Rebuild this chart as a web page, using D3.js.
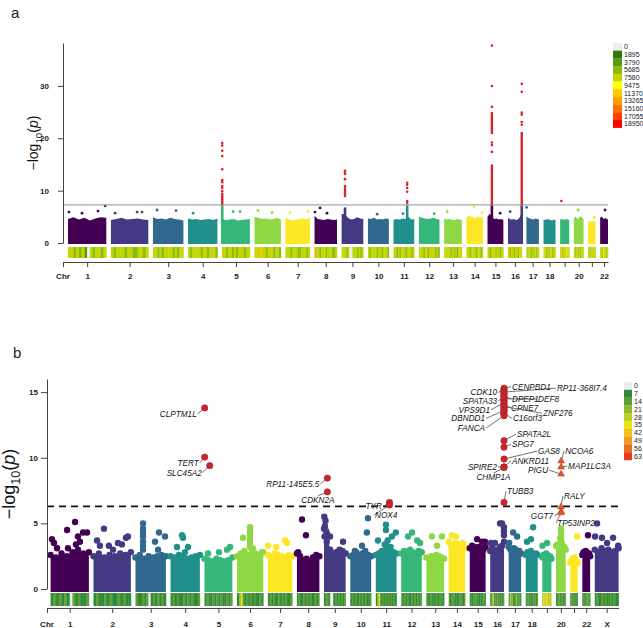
<!DOCTYPE html>
<html lang="en">
<head>
<meta charset="UTF-8">
<title>Manhattan plots</title>
<script src="https://d3js.org/d3.v7.min.js"></script>
<style>
  body { margin: 0; background: #fff; }
  svg { display: block; font-family: "Liberation Sans", Arial, sans-serif; }
</style>
</head>
<body>
<svg id="chart" width="643" height="628"></svg>
<script>
// chromosomes (hg19 lengths, Mb)
const chrNames = ["1","2","3","4","5","6","7","8","9","10","11","12","13","14","15","16","17","18","19","20","21","22","X"];
const chrLength = [249,243,198,191,181,171,159,146,141,136,135,134,115,107,103,90,81,78,59,63,48,51,155];
const hiddenTicks = ["19", "21"];
const chrColors = ["#440154","#443a83","#31688e","#21908c","#35b779","#8fd744","#fde725"];

// ---- panel a data ----
// top of the dense point cloud per chromosome (-log10 p), read left to right
const bodyA = [
  [4.6,4.9,4.5,4.8,4.3,4.7,4.9,4.8],[4.4,4.6,4.8,4.5,4.6,4.7,4.5,4.4],[4.9,4.6,4.7,4.5,4.8,4.6,4.5,4.3],
  [4.7,4.5,4.6,4.4,4.5,4.6,4.4,4.7],[4.6,4.4,4.5,4.6,4.3,4.4,4.5,4.6],[5.0,4.8,4.6,4.7,4.5,4.6,4.8,4.5],
  [4.8,4.5,4.3,4.4,4.6,4.7,4.5,4.9],[5.2,4.6,4.5,4.4,4.6,4.5,4.4,4.5],[5.5,5.6,4.8,4.5,4.6,4.9,4.7,4.6],
  [4.7,4.6,4.8,4.5,4.6,4.5,4.7,4.6],[4.4,4.6,4.5,4.7,4.6,5.0,4.5,4.6],[5.0,4.8,4.7,4.6,4.7,4.8,4.6,4.5],
  [4.7,4.5,4.6,4.5,4.4,4.6,4.5,4.4],[4.8,5.2,5.0,4.9,4.7,5.1,4.8,4.9],[5.0,5.6,4.9,4.6,4.7,4.5,4.6,4.4],
  [4.8,4.6,4.5,4.6,4.4,4.5,4.9,5.8],[5.1,4.8,4.7,4.6,4.5,4.7,4.6,4.5],[4.5,4.4,4.6,4.5,4.4,4.3,4.5,4.4],
  [4.6,4.5,4.6,4.4,4.5,4.6,4.5,4.4],[4.7,5.0,4.8,4.6,4.9,5.1,4.8,4.6],[4.2,4.0,4.3,4.1,4.2,4.0,4.1,4.2],
  [4.8,5.0,4.9,4.6,4.7,4.8,4.5,4.6]
];
// narrow columns of the cloud: [chr, Mb, top]
const spikesA = [[5,1.3,7.3],[9,22,6.8],[11,89,7.3],[15,28.4,7.3],[16,89.5,7.3]];
// single points above the cloud: [chr, Mb, value]
const dotsA = [
  [1,6,5.9],[1,91,5.7],[1,195,6.1],[1,241,7.1],[2,27,5.7],[2,170,5.9],[2,202,5.9],[3,27,6.3],[3,150,6.2],
  [4,33,5.7],[5,72,6.0],[5,117,6.0],[6,23,6.2],[6,114,5.8],[7,30,5.8],[7,147,6.0],[8,3,5.9],[8,36,6.7],
  [8,81,5.7],[10,60,5.5],[11,62,5.6],[12,99,5.6],[13,20,6.0],[14,50,6.9],[14,102,5.8],[15,82,5.7],
  [16,14,6.0],[17,1,6.8],[20,28,6.3],[21,39,4.9],[22,32,6.3]
];
// significant points: [chr, Mb, value]
const sigA = [
  [5,1.3,19.1],[5,1.3,18.6],[5,1.3,17.6],[5,1.3,16.6],[5,1.3,14.1],[5,1.3,12.0],[5,1.3,11.6],[5,1.3,10.9],[5,1.3,10.5],[5,1.3,9.9],
  [9,22,13.8],[9,22,13.6],[9,22,13.2],[9,22,12.2],[9,22,10.9],[9,22,10.5],[9,22,10.1],[9,22,9.8],[9,22,9.4],[9,22,9.0],
  [11,89,11.5],[11,89,11.1],[11,89,10.5],[11,89,9.8],[11,89,8.0],[11,89,7.7],
  [15,28.4,37.7],[15,28.4,30.0],[15,28.4,26.0],[15,28.4,19.2],[15,28.4,18.7],[15,28.4,17.4],
  [16,89.5,30.4],[16,89.5,28.9],[16,89.5,24.9],[16,89.5,24.5],[16,89.5,23.1],[16,89.5,22.6],
  [19,8,8.0]
];
// densely packed significant runs: [chr, Mb, low, high]
const sigRunsA = [[5,1.3,7.3,9.6],[15,28.4,7.3,15.0],[15,28.4,20.8,25.0],[16,89.5,7.3,21.2]];
// SNP density bins per chromosome (legend level index)
const densA = [
  "44343420434434","43444344334434","44343444434344","43444434434443","44344343444344","44464434443443",
  "44434443344434","74434443444334","44434004443434","43444434434443","44343444344434","44434434444343",
  "44444344343444","44434444344434","44344443444344","44364434443464","43444344344344","44434434443444",
  "46443444465444","44344434434444","43444344444444","44434454444344"
];
const legendA = [0,1895,3790,5685,7580,9475,11370,13265,15160,17055,18950];
const legendColA = ["#ececec","#2c7c0c","#5a9a10","#8cba14","#c4d600","#ffff00","#ffc800","#ff9e00","#ff7000","#ff4000","#ff0000"];

// ---- panel b data ----
const bodyB = [
  [2.6,2.4,2.7,2.5,2.8,3.0,2.7,2.8],[2.5,2.7,2.4,2.6,2.5,2.7,2.6,2.8],[2.4,2.6,2.3,2.5,2.4,2.5,2.6,2.5],
  [2.5,2.4,2.6,2.5,2.3,2.4,2.5,2.6],[2.3,2.2,2.1,2.3,2.2,2.1,2.2,2.4],[2.5,2.7,2.9,2.6,3.0,2.7,2.6,2.8],
  [2.6,2.5,2.7,2.6,2.5,2.4,2.6,2.5],[2.7,2.5,2.2,2.3,2.1,2.4,2.6,2.5],[4.6,4.2,3.0,2.7,2.8,3.0,2.9,2.7],
  [2.5,2.6,2.8,2.5,2.7,2.9,2.6,2.5],[2.6,2.7,2.9,3.4,3.7,3.2,2.8,2.7],[2.7,2.9,2.8,3.0,2.8,2.7,2.9,2.8],
  [2.4,2.3,2.5,2.4,2.6,2.5,2.4,2.3],[3.6,3.4,3.3,3.5,3.2,3.4,3.3,3.1],[3.1,3.3,3.2,3.0,3.2,3.1,3.0,3.2],
  [2.9,3.1,3.0,2.8,3.0,3.2,3.3,3.6],[3.2,3.0,2.9,3.1,3.0,2.8,2.9,2.7],[2.6,2.8,2.7,2.9,2.6,2.5,2.7,2.6],
  [2.4,2.6,2.5,2.7,2.6,2.4,2.5,2.3],[3.3,3.4,3.2,3.9,3.5,3.3,3.2,3.0],[2.0,2.1,2.3,2.2,2.4,2.2,2.1,2.0],
  [2.6,2.8,2.7,2.9,2.8,2.6,2.7,2.5],[3.0,2.8,3.1,2.9,3.0,2.8,2.9,3.1]
];
const dotsB = [
  [1,9,3.8],[1,22,3.5],[1,42,3.1],[1,107,4.5],[1,113,3.1],[1,159,5.1],[1,165,3.4],[1,178,4.0],[1,191,3.6],[1,211,4.3],[1,237,4.3],
  [2,23,3.7],[2,42,3.3],[2,68,4.6],[2,100,3.3],[2,127,3.0],[2,159,3.5],[2,185,3.4],[2,211,3.9],[2,224,4.0],
  [3,49,5.0],[3,49,4.6],[3,49,4.3],[3,49,4.0],[3,49,3.6],[3,49,3.3],[3,49,3.0],[3,127,3.6],[3,147,3.0],[3,153,4.3],[3,192,4.0],
  [4,42,3.2],[4,75,4.1],[4,81,3.9],[4,94,2.8],[4,114,3.2],
  [5,23,2.7],[5,94,2.8],[5,146,3.0],[5,166,3.2],
  [6,85,4.7],[6,85,4.4],[6,85,4.1],[6,85,3.8],[6,85,3.5],[6,85,3.2],[6,39,3.9],[6,104,3.1],[6,163,2.8],
  [7,1,3.3],[7,55,3.2],[7,112,3.7],[7,124,3.5],
  [8,8,2.8],[8,33,5.3],[8,59,4.1],
  [9,2,5.5],[9,10,5.2],[9,6,4.8],[9,14,4.4],[9,4,4.0],[9,18,3.6],[9,39,4.0],[9,124,3.6],
  [10,30,2.9],[10,76,3.3],[10,108,4.3],[10,115,5.4],
  [11,14,3.7],[11,66,4.9],[11,66,4.5],[11,105,4.0],[11,130,4.3],
  [12,45,4.0],[12,71,4.3],[12,104,3.7],[12,123,3.5],
  [13,36,4.0],[13,69,3.3],[13,101,4.0],
  [14,21,4.1],[14,47,4.0],[14,93,3.5],
  [15,48,3.8],[15,80,3.6],[15,99,3.6],
  [16,5,3.5],[16,31,3.5],[16,64,5.0],[16,77,5.0],[16,89.5,4.7],[16,89.5,4.4],[16,89.5,4.1],
  [17,3,3.5],[17,29,4.3],[17,55,4.0],
  [18,8,3.6],[18,34,3.8],[18,48,4.7],
  [19,1,3.3],[19,31,3.5],
  [20,33,4.6],[20,33,4.3],[20,33,4.0],[20,33,3.7],
  [21,44,4.0],[22,37,4.1],
  [23,2,4.0],[23,15,5.0],[23,47,3.9],[23,80,3.5],[23,119,3.9],[23,152,3.3]
];
// annotated hits: [gene, chr, Mb, value, shape]
const genesB = [
  ["CLPTM1L",5,1.33,13.8,"c"],["TERT",5,1.28,10.05,"c"],["SLC45A2",5,33.9,9.4,"c"],
  ["RP11-145E5.5",9,21.9,8.45,"c"],["CDKN2A",9,21.97,7.4,"c"],
  ["TYR",11,88.9,6.6,"c"],["NOX4",11,89.1,6.4,"c"],
  ["CDK10",16,89.75,15.2,"c"],["CENPBD1",16,90.0,15.3,"c"],["RP11-368I7.4",16,89.3,15.0,"c"],
  ["SPATA33",16,89.7,14.6,"c"],["DPEP1",16,89.7,14.7,"c"],["DEF8",16,90.0,14.5,"c"],
  ["VPS9D1",16,89.8,14.2,"c"],["CPNE7",16,89.6,14.1,"c"],["ZNF276",16,89.8,13.9,"c"],
  ["DBNDD1",16,90.0,13.6,"c"],["C16orf3",16,89.0,13.4,"c"],["FANCA",16,89.8,13.2,"c"],
  ["SPATA2L",16,89.8,11.3,"c"],["SPG7",16,89.6,10.8,"c"],["GAS8",16,90.1,9.9,"c"],
  ["ANKRD11",16,89.4,9.3,"c"],["SPIRE2",16,89.9,9.3,"c"],["CHMP1A",16,89.7,9.25,"c"],
  ["TUBB3",16,90.0,6.6,"c"],
  ["NCOA6",20,33.3,9.75,"t"],["MAP1LC3A",20,33.1,9.3,"t"],["PIGU",20,33.2,8.75,"t"],
  ["RALY",20,32.6,6.25,"t"],["GGT7",20,33.4,5.9,"t"],["TP53INP2",20,33.3,5.8,"t"]
];
// unlabeled hits inside the chr16 cluster
const extraSigB = [[16,89.6,15.1],[16,89.6,14.9],[16,89.6,14.8],[16,89.6,14.4],[16,89.6,14.3],[16,89.6,14.0],[16,89.6,13.8],[16,89.6,13.7],[16,89.6,13.5],[16,89.6,13.3]];
const densB = [
  "12121210212112","12112121121211","21121201212121","12121121212112","12112121211212","13521212121121",
  "12121121212112","12112121211212","12210012121212","12121121212112","13512121212121","21212112121212",
  "12121211212121","21212121121212","12121212121121","12341213121212","12513121512121","12121212121212",
  "35465354535435","12121312121212","11212121212121","12121212132121","12112121121211"
];
const legendB = [0,7,14,21,28,35,42,49,56,63];
const legendColB = ["#ececec","#2d8a3a","#5e9e35","#8cb92b","#b8cf20","#e8e619","#f4c01e","#f39a20","#ee6b23","#e63a22"];

// label placement (px offset of text from its point, anchor)
const labelLayout = {
  "CLPTM1L":[-8,6,"end"], "TERT":[-6,6,"end"], "SLC45A2":[-8,7,"end"], "RP11-145E5.5":[-8,6,"end"],
  "CDKN2A":[-9.5,8.5,"middle"], "TYR":[-7.5,4,"end"], "NOX4":[-14.5,10,"start"],
  "CDK10":[-7,3,"end"], "CENPBD1":[8,-1.5,"start"], "RP11-368I7.4":[53,-4,"start"], "SPATA33":[-7,3.5,"end"],
  "DPEP1":[8,3,"start"], "DEF8":[34,0.5,"start"], "VPS9D1":[-14,7.2,"end"], "CPNE7":[7,3.8,"start"],
  "ZNF276":[39,6.6,"start"], "DBNDD1":[-19,7.9,"end"], "C16orf3":[9,5.3,"start"], "FANCA":[-19,12.4,"end"],
  "SPATA2L":[13,-6.5,"start"], "SPG7":[8,-3,"start"], "GAS8":[34,-8,"start"], "ANKRD11":[8,-6,"start"],
  "SPIRE2":[-7,0,"end"], "CHMP1A":[-10.5,10,"middle"], "TUBB3":[3,-11,"start"],
  "NCOA6":[4,-10,"start"], "MAP1LC3A":[7,-0.8,"start"], "PIGU":[-13,-4,"end"], "RALY":[3,-11,"start"],
  "GGT7":[-8,4.5,"end"], "TP53INP2":[-4,10,"start"]
};

// cumulative positions with a gap between chromosomes
const gap = 30;
const chrStart = [];
let acc = 0;
chrLength.forEach(l => { chrStart.push(acc); acc += l + gap; });
const centre = i => chrStart[i] + chrLength[i] / 2;

const svg = d3.select("#chart");
svg.append("rect").attr("width", 643).attr("height", 628).attr("fill", "#fff");

const xA = d3.scaleLinear().domain([-32.5, chrStart[21] + chrLength[21]]).range([63, 608]);
const yA = d3.scaleLinear().domain([0, 38.2]).range([243, 43]);
const xB = d3.scaleLinear().domain([-23.4, chrStart[22] + chrLength[22]]).range([47, 618.6]);
const yB = d3.scaleLinear().domain([0, 16]).range([589, 379]);

const px = (x, c, pos) => x(chrStart[c - 1] + pos);

function yTitle(x, y, size) {
  const t = svg.append("text")
    .attr("transform", `translate(${x},${y}) rotate(-90)`)
    .attr("text-anchor", "middle").attr("font-size", size).attr("fill", "#111");
  t.append("tspan").text("\u2212log");
  t.append("tspan").attr("font-size", size * 0.7).attr("dy", size * 0.28).text("10");
  t.append("tspan").attr("dy", -size * 0.28).text("(");
  t.append("tspan").attr("font-style", "italic").text("p");
  t.append("tspan").text(")");
}

function drawStrip(x, dens, cols, y0, h) {
  dens.forEach((s, i) => {
    const bins = s.split("").map(Number);
    const w = chrLength[i] / bins.length;
    bins.forEach((lv, j) => {
      const a = x(chrStart[i] + j * w), b = x(chrStart[i] + (j + 1) * w);
      svg.append("rect").attr("x", a).attr("y", y0).attr("width", b - a + 0.3).attr("height", h)
        .attr("fill", cols[lv]);
    });
  });
}

function drawLegend(vals, cols, x0, y0, h, w, size) {
  vals.forEach((v, i) => {
    svg.append("rect").attr("x", x0).attr("y", y0 + i * h).attr("width", w).attr("height", h + 0.2).attr("fill", cols[i]);
    svg.append("text").attr("x", x0 + w + 2).attr("y", y0 + i * h + h / 2 + size * 0.36)
      .attr("font-size", size).attr("fill", "#222").text(v);
  });
}

function drawXAxis(x, n, yPos, pad) {
  const ticks = [x.domain()[0]].concat(d3.range(n).map(centre));
  const labels = [""].concat(chrNames.slice(0, n).map(c => hiddenTicks.includes(c) ? "" : c));
  const g = svg.append("g").attr("transform", `translate(0,${yPos})`)
    .call(d3.axisBottom(x).tickValues(ticks).tickFormat((d, i) => labels[i]).tickSize(5).tickSizeOuter(0).tickPadding(pad));
  g.selectAll("path,line").attr("stroke", "#444");
  g.selectAll("text").attr("font-size", 8).attr("font-weight", "bold").attr("fill", "#222")
    .attr("font-family", "Liberation Sans, Arial, sans-serif");
  svg.append("text").attr("x", x.range()[0]).attr("y", yPos + 5 + pad + 5.7)
    .attr("text-anchor", "middle").attr("font-size", 8).attr("font-weight", "bold").attr("fill", "#222").text("Chr");
}

function drawYAxis(y, xPos, ticks, size, pad) {
  const g = svg.append("g").attr("transform", `translate(${xPos},0)`)
    .call(d3.axisLeft(y).tickValues(ticks).tickSize(size).tickSizeOuter(0).tickPadding(pad));
  g.selectAll("path,line").attr("stroke", "#444");
  g.selectAll("text").attr("font-size", 8).attr("font-weight", "bold").attr("fill", "#222")
    .attr("font-family", "Liberation Sans, Arial, sans-serif");
}

// ================= panel a =================
svg.append("text").attr("x", 11).attr("y", 18).attr("font-size", 15).attr("fill", "#222").text("a");

bodyA.forEach((prof, i) => {
  const pts = prof.map((v, j) => [chrStart[i] + chrLength[i] * j / (prof.length - 1), v]);
  const area = d3.area().x(d => xA(d[0])).y0(yA(0) + 1).y1(d => yA(d[1]));
  svg.append("path").attr("d", area(pts)).attr("fill", chrColors[i % 7]);
});
spikesA.forEach(([c, pos, v]) => {
  svg.append("rect").attr("x", px(xA, c, pos) - 1.3).attr("y", yA(v)).attr("width", 2.6)
    .attr("height", yA(0) + 1 - yA(v)).attr("fill", chrColors[(c - 1) % 7]);
});
svg.selectAll(null).data(dotsA).join("circle")
  .attr("cx", d => px(xA, d[0], d[1])).attr("cy", d => yA(d[2])).attr("r", 1.4)
  .attr("fill", d => chrColors[(d[0] - 1) % 7]);

// genome-wide threshold
svg.append("line").attr("x1", 63).attr("x2", 608).attr("y1", yA(7.3)).attr("y2", yA(7.3))
  .attr("stroke", "#a8a8a8").attr("stroke-width", 1.2);

sigRunsA.forEach(([c, pos, lo, hi]) => {
  svg.append("line").attr("x1", px(xA, c, pos)).attr("x2", px(xA, c, pos))
    .attr("y1", yA(lo)).attr("y2", yA(hi)).attr("stroke", "#d7262b").attr("stroke-width", 2.4);
});
svg.selectAll(null).data(sigA).join("circle")
  .attr("cx", d => px(xA, d[0], d[1])).attr("cy", d => yA(d[2])).attr("r", 1.3).attr("fill", "#d7262b");

drawStrip(xA, densA, legendColA, 247, 11);
drawYAxis(yA, 63, [0, 10, 20, 30], 5, 9);
drawXAxis(xA, 22, 262, 6);
yTitle(38, 143, 14);
drawLegend(legendA, legendColA, 613, 43, 7.7, 9, 7);

// ================= panel b =================
svg.append("text").attr("x", 13).attr("y", 358).attr("font-size", 15).attr("fill", "#222").text("b");

bodyB.forEach((prof, i) => {
  const pts = prof.map((v, j) => [chrStart[i] + chrLength[i] * j / (prof.length - 1), v]);
  const area = d3.area().x(d => xB(d[0])).y0(yB(0) + 3).y1(d => yB(d[1]));
  const col = chrColors[i % 7];
  svg.append("path").attr("d", area(pts)).attr("fill", col);
  svg.selectAll(null).data(pts).join("circle")
    .attr("cx", d => xB(d[0])).attr("cy", d => yB(d[1])).attr("r", 3.2).attr("fill", col);
});
svg.selectAll(null).data(dotsB).join("circle")
  .attr("cx", d => px(xB, d[0], d[1])).attr("cy", d => yB(d[2])).attr("r", 3.2)
  .attr("fill", d => chrColors[(d[0] - 1) % 7]);

svg.append("line").attr("x1", 47).attr("x2", 619).attr("y1", yB(6.3)).attr("y2", yB(6.3))
  .attr("stroke", "#111").attr("stroke-width", 1.8).attr("stroke-dasharray", "7,5");

// leader lines, then points, then labels
const lbl = genesB.map(([name, c, pos, v, shape]) => {
  const x = px(xB, c, pos), y = yB(v);
  const [dx, dy, anchor] = labelLayout[name];
  const tx = x + dx, ty = y + dy;
  let ex = tx, ey = ty;
  if (anchor === "end") ex = tx + 1;
  else if (anchor === "start") ex = tx - 1;
  else ey = ty - 4.5;
  return { name, x, y, shape, tx, ty, ex, ey, anchor };
});
svg.selectAll(null).data(lbl).join("line")
  .attr("x1", d => d.x).attr("y1", d => d.y).attr("x2", d => d.ex).attr("y2", d => d.ey)
  .attr("stroke", "#333").attr("stroke-width", 0.7);

svg.selectAll(null).data(extraSigB).join("circle")
  .attr("cx", d => px(xB, d[0], d[1])).attr("cy", d => yB(d[2])).attr("r", 3.2)
  .attr("fill", "#c9252c").attr("stroke", "#9b1c1c").attr("stroke-width", 0.5);
svg.selectAll(null).data(lbl.filter(d => d.shape === "c")).join("circle")
  .attr("cx", d => d.x).attr("cy", d => d.y).attr("r", 3.2)
  .attr("fill", "#c9252c").attr("stroke", "#9b1c1c").attr("stroke-width", 0.5);
svg.selectAll(null).data(lbl.filter(d => d.shape === "t")).join("path")
  .attr("d", d3.symbol(d3.symbolTriangle).size(20))
  .attr("transform", d => `translate(${d.x},${d.y})`)
  .attr("fill", "#e4572e").attr("stroke", "#b03a1a").attr("stroke-width", 0.5);

svg.selectAll(null).data(lbl).join("text")
  .attr("x", d => d.tx).attr("y", d => d.ty + 2.9)
  .attr("text-anchor", d => d.anchor).attr("font-size", 8.2).attr("font-style", "italic")
  .attr("fill", "#111").text(d => d.name);

drawStrip(xB, densB, legendColB, 593, 13);
drawYAxis(yB, 47, [0, 5, 10, 15], 6, 3);
drawXAxis(xB, 23, 608, 8);
yTitle(15, 484, 18);
drawLegend(legendB, legendColB, 624, 382, 7.8, 8, 7);
</script>
</body>
</html>
